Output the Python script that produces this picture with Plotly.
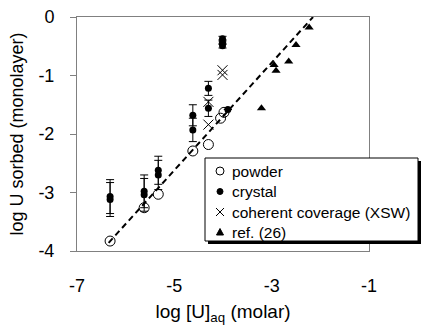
import plotly.graph_objects as go

# ---- data ----
powder_x = [-6.32, -5.62, -5.33, -4.62, -4.30, -4.05, -3.98]
powder_y = [-3.83, -3.26, -3.03, -2.29, -2.18, -1.73, -1.63]

crystal_x = [-6.32, -6.32, -5.62, -5.62, -5.33, -5.33, -4.62, -4.62, -4.30, -4.30, -4.01, -4.01, -4.01, -3.90]
crystal_y = [-3.07, -3.12, -2.98, -3.04, -2.62, -2.70, -1.68, -1.93, -1.22, -1.56, -0.37, -0.43, -0.49, -1.58]
crystal_err = [0.29, 0.29, 0.28, 0.28, 0.24, 0.25, 0.18, 0.20, 0.12, 0.14, 0.04, 0.04, 0.04, 0.0]

xsw_x = [-4.30, -4.30, -4.01, -4.01]
xsw_y = [-1.45, -1.84, -0.91, -0.99]

ref_x = [-3.21, -2.95, -2.91, -2.65, -2.50, -2.23]
ref_y = [-1.56, -0.82, -0.92, -0.76, -0.48, -0.18]

fit_x = [-6.35, -2.15]
fit_y = [-3.86, 0.0]

legend_labels = ["powder", "crystal", "coherent coverage (XSW)", "ref. (26)"]

x_ticks = [-7, -5, -3, -1]
y_ticks = [0, -1, -2, -3, -4]

# ---- layout geometry ----
W, H = 421, 331
ML, MR, MT, MB = 77, 52, 17, 80
PW, PH = W - ML - MR, H - MT - MB
FONT = "Liberation Sans, Arial, sans-serif"


def px(xp):
    return (xp - ML) / PW


def py(yp):
    return (H - MB - yp) / PH


fig = go.Figure()

fig.add_trace(go.Scatter(x=fit_x, y=fit_y, mode="lines",
                         line=dict(color="black", width=2, dash="6px,4px"),
                         showlegend=False, hoverinfo="skip"))
fig.add_trace(go.Scatter(x=powder_x, y=powder_y, mode="markers", name=legend_labels[0],
                         marker=dict(symbol="circle-open", size=10, color="black",
                                     line=dict(width=1, color="black")),
                         showlegend=False))
fig.add_trace(go.Scatter(x=crystal_x, y=crystal_y, mode="markers", name=legend_labels[1],
                         marker=dict(symbol="circle", size=7, color="black"),
                         error_y=dict(type="data", array=crystal_err, visible=True,
                                      color="black", thickness=1, width=4),
                         showlegend=False))
fig.add_trace(go.Scatter(x=xsw_x, y=xsw_y, mode="markers", name=legend_labels[2],
                         marker=dict(symbol="x-thin-open", size=10, color="black",
                                     line=dict(width=1, color="black")),
                         showlegend=False))
fig.add_trace(go.Scatter(x=ref_x, y=ref_y, mode="markers", name=legend_labels[3],
                         marker=dict(symbol="triangle-up", size=8, color="black"),
                         showlegend=False))

# ---- hand-built legend box (with drop shadow) ----
shapes = []
bx0, bx1, by0, by1 = 205, 418, 158, 241
shapes.append(dict(type="rect", xref="paper", yref="paper",
                   x0=px(bx0 + 3), x1=px(bx1 + 3), y0=py(by1 + 3), y1=py(by0 + 3),
                   fillcolor="black", line=dict(width=0)))
shapes.append(dict(type="rect", xref="paper", yref="paper",
                   x0=px(bx0), x1=px(bx1), y0=py(by1), y1=py(by0),
                   fillcolor="white", line=dict(width=1, color="black")))

row_y = [171, 191.5, 212, 232]
sym_x = 220
# open circle
shapes.append(dict(type="circle", xref="paper", yref="paper", xsizemode="pixel", ysizemode="pixel",
                   xanchor=px(sym_x), yanchor=py(row_y[0]), x0=-4, x1=4, y0=-4, y1=4,
                   line=dict(color="black", width=1), fillcolor="rgba(0,0,0,0)"))
# filled circle
shapes.append(dict(type="circle", xref="paper", yref="paper", xsizemode="pixel", ysizemode="pixel",
                   xanchor=px(sym_x), yanchor=py(row_y[1]), x0=-3, x1=3, y0=-3, y1=3,
                   line=dict(color="black", width=1), fillcolor="black"))
# cross
for s in (1, -1):
    shapes.append(dict(type="line", xref="paper", yref="paper", xsizemode="pixel", ysizemode="pixel",
                       xanchor=px(sym_x), yanchor=py(row_y[2]), x0=-4, x1=4, y0=-4 * s, y1=4 * s,
                       line=dict(color="black", width=1)))
# triangle
shapes.append(dict(type="path", xref="paper", yref="paper", xsizemode="pixel", ysizemode="pixel",
                   xanchor=px(sym_x), yanchor=py(row_y[3]),
                   path="M -3.5 -3 L 3.5 -3 L 0 3.5 Z",
                   fillcolor="black", line=dict(color="black", width=1)))

annotations = []
for lab, yy in zip(legend_labels, row_y):
    annotations.append(dict(text=lab, xref="paper", yref="paper", x=px(230), y=py(yy),
                            xanchor="left", yanchor="middle", showarrow=False,
                            font=dict(family=FONT, size=15.5, color="black")))

fig.update_layout(
    width=W, height=H,
    margin=dict(l=ML, r=MR, t=MT, b=MB, autoexpand=False),
    paper_bgcolor="white", plot_bgcolor="white",
    font=dict(family=FONT, color="black"),
    shapes=shapes, annotations=annotations,
    showlegend=False,
)
fig.update_xaxes(range=[-7, -1], tickvals=x_ticks, ticktext=[str(v) for v in x_ticks],
                 showline=True, mirror=True, linecolor="#808080", linewidth=1,
                 ticks="", showgrid=False, zeroline=False, ticklabelstandoff=18,
                 tickfont=dict(size=18, family=FONT, color="black"),
                 title=dict(text="log [U]<sub>aq</sub> (molar)", standoff=10,
                            font=dict(size=19, family=FONT, color="black")),
                 automargin=False)
fig.update_yaxes(range=[-4, 0], tickvals=y_ticks, ticktext=[str(v) for v in y_ticks],
                 showline=True, mirror=True, linecolor="#808080", linewidth=1,
                 ticks="outside", ticklen=6, tickcolor="#808080",
                 showgrid=False, zeroline=False, ticklabelstandoff=12,
                 tickfont=dict(size=18, family=FONT, color="black"),
                 title=dict(text="log U sorbed (monolayer)", standoff=10,
                            font=dict(size=18, family=FONT, color="black")),
                 automargin=False)

fig.write_html("out.html")
